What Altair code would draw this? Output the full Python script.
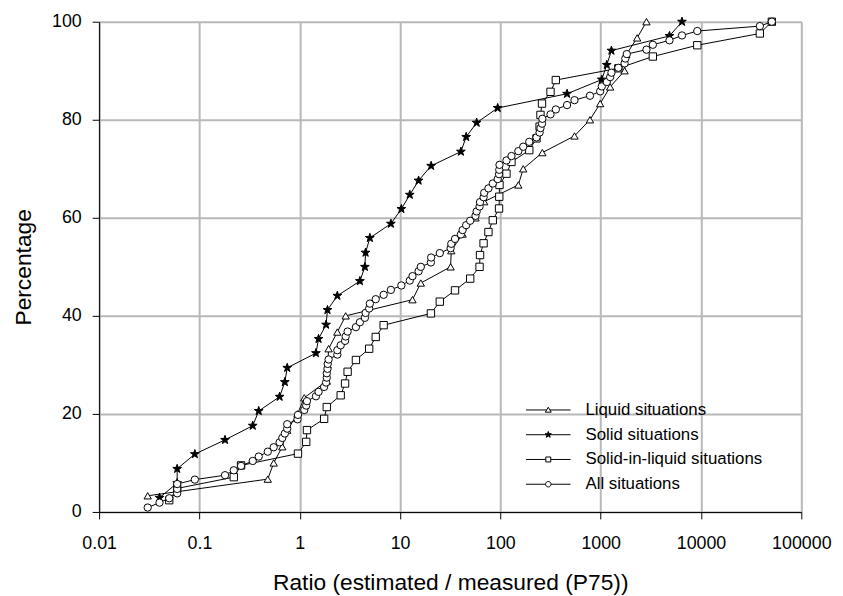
import altair as alt
import pandas as pd

series_names = ["Liquid situations", "Solid situations",
                "Solid-in-liquid situations", "All situations"]

liquid_ratio = [0.0305, 0.48, 0.55, 0.67, 0.75, 0.95, 1.11, 1.86, 1.9, 1.94,
                2.37, 2.87, 13.3, 16.1, 31.9, 32.4, 42, 56.5, 69, 151,
                169, 262, 548, 782, 988, 1242, 1730, 1800, 2310, 2860]
liquid_pct = [3.3, 6.7, 10.0, 13.3, 16.7, 20.0, 23.3, 26.7, 30.0, 33.3,
              36.7, 40.0, 43.3, 46.7, 50.0, 53.3, 56.7, 60.0, 63.3, 66.7,
              70.0, 73.3, 76.7, 80.0, 83.3, 86.7, 90.0, 93.3, 96.7, 100.0]

solid_ratio = [0.04, 0.06, 0.06, 0.09, 0.18, 0.34, 0.39, 0.63, 0.71, 0.75,
               1.45, 1.54, 1.83, 1.89, 2.37, 3.98, 4.46, 4.53, 5.0, 8.1,
               10.3, 12.5, 15.3, 20.4, 40.4, 45.6, 58, 94, 462, 1025,
               1150, 1280, 4850, 6460]
solid_pct = [2.9, 5.9, 8.8, 11.8, 14.7, 17.6, 20.6, 23.5, 26.5, 29.4,
             32.4, 35.3, 38.2, 41.2, 44.1, 47.1, 50.0, 52.9, 55.9, 58.8,
             61.8, 64.7, 67.6, 70.6, 73.5, 76.5, 79.4, 82.4, 85.3, 88.2,
             91.2, 94.1, 97.1, 100.0]

sil_ratio = [0.05, 0.06, 0.22, 0.26, 0.96, 1.16, 1.18, 1.75, 1.86, 2.56,
             2.83, 3.0, 3.63, 4.92, 5.72, 6.86, 20.3, 24.9, 35.3, 50,
             62, 62.7, 68, 76, 84, 97, 97.5, 98, 115, 129,
             194, 229, 246, 251, 260, 316, 357, 1500, 3310, 9180,
             38600, 50800]
sil_pct = [2.4, 4.8, 7.1, 9.5, 11.9, 14.3, 16.7, 19.0, 21.4, 23.8,
           26.2, 28.6, 31.0, 33.3, 35.7, 38.1, 40.5, 42.9, 45.2, 47.6,
           50.0, 52.4, 54.8, 57.1, 59.5, 61.9, 64.3, 66.7, 69.0, 71.4,
           73.8, 76.2, 78.6, 81.0, 83.3, 85.7, 88.1, 90.5, 92.9, 95.2,
           97.6, 100.0]

all_ratio = [0.0305, 0.04, 0.05, 0.06, 0.06, 0.06, 0.09, 0.18, 0.22, 0.26,
             0.34, 0.39, 0.48, 0.55, 0.63, 0.67, 0.71, 0.75, 0.75, 0.95,
             0.96, 1.11, 1.16, 1.18, 1.45, 1.54, 1.75, 1.83, 1.86, 1.86,
             1.89, 1.9, 1.94, 2.37, 2.37, 2.56, 2.83, 2.87, 3.0, 3.63,
             3.98, 4.46, 4.53, 4.92, 5.0, 5.72, 6.86, 8.1, 10.3, 12.5,
             13.3, 15.3, 16.1, 20.3, 20.4, 24.9, 31.9, 32.4, 35.3, 40.4,
             42, 45.6, 50, 56.5, 58, 62, 62.7, 68, 69, 76,
             84, 94, 97, 97.5, 98, 115, 129, 151, 169, 194,
             229, 246, 251, 260, 262, 316, 357, 462, 548, 782,
             988, 1025, 1150, 1242, 1280, 1500, 1730, 1760, 1820, 2860,
             3310, 4850, 6460, 9180, 38600, 50800]
all_pct = [0.9, 1.9, 2.8, 3.8, 4.7, 5.7, 6.6, 7.5, 8.5, 9.4,
           10.4, 11.3, 12.3, 13.2, 14.2, 15.1, 16.0, 17.0, 17.9, 18.9,
           19.8, 20.8, 21.7, 22.6, 23.6, 24.5, 25.5, 26.4, 27.4, 28.3,
           29.2, 30.2, 31.1, 32.1, 33.0, 34.0, 34.9, 35.8, 36.8, 37.7,
           38.7, 39.6, 40.6, 41.5, 42.5, 43.4, 44.3, 45.3, 46.2, 47.2,
           48.1, 49.1, 50.0, 50.9, 51.9, 52.8, 53.8, 54.7, 55.7, 56.6,
           57.5, 58.5, 59.4, 60.4, 61.3, 62.3, 63.2, 64.2, 65.1, 66.0,
           67.0, 67.9, 68.9, 69.8, 70.8, 71.7, 72.6, 73.6, 74.5, 75.5,
           76.4, 77.4, 78.3, 79.2, 80.2, 81.1, 82.1, 83.0, 84.0, 84.9,
           85.8, 86.8, 87.7, 88.7, 89.6, 90.6, 91.5, 92.5, 93.4, 94.3,
           95.3, 96.2, 97.2, 98.1, 99.1, 100.0]

x_ticks = [0.01, 0.1, 1, 10, 100, 1000, 10000, 100000]
y_ticks = [0, 20, 40, 60, 80, 100]

rows = []
for name, xs, ys in zip(series_names,
                        [liquid_ratio, solid_ratio, sil_ratio, all_ratio],
                        [liquid_pct, solid_pct, sil_pct, all_pct]):
    for xv, yv in zip(xs, ys):
        rows.append({"series": name, "ratio": xv, "pct": yv})
df = pd.DataFrame(rows)

FONT = "Liberation Sans"
STAR = ("M0,-1.25L0.294,-0.405L1.189,-0.386L0.476,0.155L0.735,1.011L0,0.5"
        "L-0.735,1.011L-0.476,0.155L-1.189,-0.386L-0.294,-0.405Z")

LEG_TRI = "M-4.5,0H-0.33M0.33,0H4.5M0,-0.55L0.6,0.45L-0.6,0.45Z"
LEG_STAR = ("M-4.5,0H4.5M0,-0.65L0.159,-0.218L0.618,-0.201L0.257,0.083L0.382,0.526"
            "L0,0.27L-0.382,0.526L-0.257,0.083L-0.618,-0.201L-0.159,-0.218Z")
LEG_SQ = "M-4.5,0H-0.5M0.5,0H4.5M-0.5,-0.5H0.5V0.5H-0.5Z"
LEG_CIR = ("M-4.5,0H-0.55M0.55,0H4.5M-0.55,0A0.55,0.55 0 1,1 0.55,0"
           "A0.55,0.55 0 1,1 -0.55,0Z")

fills = ["white", "black", "white", "white"]

x_enc = alt.X("ratio:Q",
              scale=alt.Scale(type="log", domain=[0.01, 100000], nice=False),
              axis=alt.Axis(values=x_ticks, labelExpr="'' + datum.value",
                            title="Ratio (estimated / measured (P75))",
                            tickSize=7, labelPadding=30, labelBaseline="alphabetic",
                            labelFlush=False, labelOverlap=False,
                            titleY=78, titleBaseline="alphabetic"))
y_enc = alt.Y("pct:Q",
              scale=alt.Scale(domain=[0, 100], nice=False),
              axis=alt.Axis(values=y_ticks, title="Percentage",
                            tickSize=7, labelPadding=11,
                            titleAngle=270, titleX=-69, titleY=247.5,
                            titleBaseline="alphabetic", titleAlign="center"))

def make_legend():
    return alt.Legend(
        title=None, orient="none", legendX=445, legendY=383.5,
        padding=0, labelFont=FONT, labelFontSize=17, labelLimit=400,
        labelColor="black", labelOffset=29, rowPadding=7,
        symbolSize=100, symbolStrokeWidth=1, symbolOpacity=1)

base = alt.Chart(df)

lines = base.mark_line(color="black", strokeWidth=1).encode(
    x=x_enc, y=y_enc, detail="series:N", order="pct:Q")

points = base.mark_point(filled=True, stroke="black", strokeWidth=1,
                         opacity=1, size=55).encode(
    x=x_enc, y=y_enc,
    shape=alt.Shape("series:N",
                    scale=alt.Scale(domain=series_names,
                                    range=["triangle-up", STAR, "square", "circle"]),
                    legend=None),
    fill=alt.Fill("series:N",
                  scale=alt.Scale(domain=series_names, range=fills),
                  legend=None))

legend_layer = base.transform_filter("false").mark_point(
    filled=False, color="black", stroke="black", strokeWidth=1, opacity=1).encode(
    x=x_enc, y=y_enc,
    shape=alt.Shape("series:N",
                    scale=alt.Scale(domain=series_names,
                                    range=[LEG_TRI, LEG_STAR, LEG_SQ, LEG_CIR]),
                    legend=make_legend()),
    fill=alt.Fill("series:N",
                  scale=alt.Scale(domain=series_names, range=fills),
                  legend=make_legend()))

chart = alt.layer(lines, points, legend_layer).resolve_scale(
    shape="independent", fill="independent"
).properties(
    width=709, height=495,
    autosize=alt.AutoSizeParams(type="none"),
    padding={"left": 92, "top": 11, "right": 34, "bottom": 82},
).configure(font=FONT).configure_view(stroke=None).configure_axis(
    labelFont=FONT, labelFontSize=18, labelColor="black",
    titleFont=FONT, titleFontSize=23, titleFontWeight="normal", titleColor="black",
    domainColor="black", domainWidth=1, tickColor="black", tickWidth=1,
    gridColor="#b8b8b8", gridWidth=2,
)

chart.save("out.html", embed_options={"renderer": "svg", "actions": False})
